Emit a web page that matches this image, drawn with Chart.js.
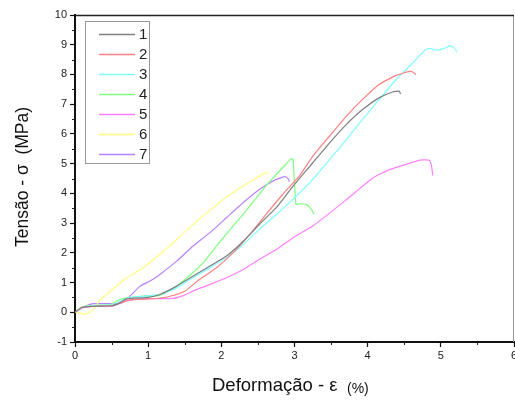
<!DOCTYPE html>
<html>
<head>
<meta charset="utf-8">
<script src="https://cdn.jsdelivr.net/npm/chart.js@4/dist/chart.umd.min.js"></script>
<style>
  html, body { margin: 0; padding: 0; background: #fff; }
  #wrap { width: 515px; height: 400px; }
</style>
</head>
<body>
<div id="wrap"><canvas id="tensile"></canvas></div>
<script>
// curves: strain (%) vs stress (MPa)
const labels = ["1", "2", "3", "4", "5", "6", "7"];
const colors = ["#7f7f7f", "#ff8080", "#80ffff", "#80ff80", "#ff80ff", "#ffff80", "#b880ff"];

const x1 = [0, 0.1, 0.25, 0.5, 0.6, 0.7, 1.0, 1.16, 1.39, 1.61, 1.84, 2.07, 2.30, 2.52, 2.75, 2.98, 3.25, 3.48, 3.71, 3.93, 4.16, 4.34, 4.43, 4.45];
const y1 = [0, 0.17, 0.2, 0.22, 0.3, 0.45, 0.5, 0.6, 0.88, 1.21, 1.55, 1.89, 2.39, 2.96, 3.52, 4.24, 5.03, 5.70, 6.32, 6.82, 7.22, 7.41, 7.44, 7.34];

const x2 = [0, 0.1, 0.25, 0.5, 0.6, 0.75, 1.0, 1.16, 1.30, 1.5, 1.70, 1.93, 2.16, 2.39, 2.61, 2.84, 3.07, 3.25, 3.48, 3.71, 3.93, 4.16, 4.39, 4.59, 4.66];
const y2 = [0, 0.17, 0.2, 0.22, 0.3, 0.42, 0.45, 0.48, 0.54, 0.71, 1.10, 1.49, 2.0, 2.62, 3.29, 3.97, 4.6, 5.25, 5.93, 6.6, 7.16, 7.67, 7.97, 8.11, 8.0];

const x3 = [0, 0.1, 0.25, 0.5, 0.6, 0.75, 1.0, 1.16, 1.39, 1.61, 1.84, 2.07, 2.30, 2.52, 2.75, 2.98, 3.25, 3.48, 3.71, 3.93, 4.16, 4.39, 4.62, 4.80, 4.87, 4.93, 5.02, 5.12, 5.18, 5.22];
const y3 = [0, 0.17, 0.22, 0.25, 0.35, 0.5, 0.55, 0.6, 0.82, 1.16, 1.49, 1.83, 2.28, 2.79, 3.29, 3.80, 4.47, 5.14, 5.81, 6.49, 7.16, 7.83, 8.40, 8.85, 8.87, 8.82, 8.85, 8.96, 8.90, 8.75];

const x4 = [0, 0.07, 0.16, 0.48, 0.61, 0.70, 0.93, 1.16, 1.39, 1.61, 1.75, 1.93, 2.16, 2.39, 2.61, 2.84, 2.96, 2.98, 3.02, 3.07, 3.16, 3.23, 3.27];
const y4 = [0, 0.15, 0.22, 0.26, 0.43, 0.48, 0.54, 0.57, 0.88, 1.33, 1.66, 2.22, 2.9, 3.57, 4.25, 4.87, 5.17, 5.14, 3.63, 3.65, 3.63, 3.46, 3.29];

const x5 = [0, 0.1, 0.25, 0.5, 0.7, 0.93, 1.34, 1.48, 1.61, 1.84, 2.07, 2.30, 2.52, 2.75, 2.98, 3.25, 3.71, 4.07, 4.30, 4.62, 4.71, 4.84, 4.87, 4.89];
const y5 = [0, 0.15, 0.2, 0.2, 0.38, 0.45, 0.47, 0.56, 0.71, 0.93, 1.16, 1.44, 1.78, 2.11, 2.51, 2.90, 3.79, 4.52, 4.80, 5.05, 5.12, 5.12, 4.97, 4.60];

const x6 = [0, 0.08, 0.16, 0.25, 0.34, 0.48, 0.70, 0.93, 1.16, 1.39, 1.61, 1.84, 2.07, 2.30, 2.52, 2.61, 2.65];
const y6 = [0, -0.03, -0.05, 0.1, 0.4, 0.7, 1.15, 1.5, 1.95, 2.45, 2.95, 3.42, 3.88, 4.25, 4.58, 4.70, 4.64];

const x7 = [0, 0.14, 0.25, 0.52, 0.64, 0.75, 0.89, 1.02, 1.16, 1.39, 1.61, 1.84, 2.07, 2.30, 2.52, 2.75, 2.87, 2.92, 2.93];
const y7 = [0, 0.2, 0.29, 0.29, 0.31, 0.54, 0.88, 1.04, 1.27, 1.72, 2.22, 2.67, 3.18, 3.69, 4.13, 4.47, 4.56, 4.47, 4.39];

const xTicks = [0, 1, 2, 3, 4, 5, 6];
const yTicks = [-1, 0, 1, 2, 3, 4, 5, 6, 7, 8, 9, 10];

const xs = [x1, x2, x3, x4, x5, x6, x7];
const ys = [y1, y2, y3, y4, y5, y6, y7];

const FONT = "'Liberation Sans', Arial, sans-serif";

const datasets = labels.map((lab, i) => ({
  label: lab,
  data: xs[i].map((v, k) => ({ x: v, y: ys[i][k] })),
  borderColor: colors[i],
  backgroundColor: colors[i],
  borderWidth: 1.2,
  pointRadius: 0,
  tension: 0.15,
  fill: false
}));

// frame, minor ticks, axis titles and the boxed legend
const decor = {
  id: "decor",
  afterDraw(chart) {
    const c = chart.ctx;
    const a = chart.chartArea;
    const sx = chart.scales.x, sy = chart.scales.y;
    c.save();

    // top + right frame
    c.strokeStyle = "#999";
    c.lineWidth = 1;
    c.beginPath();
    c.moveTo(a.right - 0.5, a.top);
    c.lineTo(a.right - 0.5, a.bottom);
    c.stroke();
    c.strokeStyle = "#222";
    c.lineWidth = 1.5;
    c.beginPath();
    c.moveTo(a.left, a.top + 0.5);
    c.lineTo(a.right, a.top + 0.5);
    c.stroke();

    // minor ticks at half units
    c.strokeStyle = "#222";
    c.lineWidth = 1;
    c.beginPath();
    for (let v = 0.5; v < 6; v += 1) {
      const px = Math.round(sx.getPixelForValue(v)) + 0.5;
      c.moveTo(px, a.bottom);
      c.lineTo(px, a.bottom + 3);
    }
    for (let v = -0.5; v < 10; v += 1) {
      const py = Math.round(sy.getPixelForValue(v)) + 0.5;
      c.moveTo(a.left, py);
      c.lineTo(a.left - 3, py);
    }
    c.stroke();

    // x title, unit set smaller
    c.fillStyle = "#111";
    c.textBaseline = "alphabetic";
    c.textAlign = "left";
    c.font = "18.5px " + FONT;
    c.fillText("Deformação - ε", 212, 391);
    c.font = "14px " + FONT;
    c.fillText("(%)", 347, 393);

    // y title
    c.translate(28, 177);
    c.rotate(-Math.PI / 2);
    c.textAlign = "center";
    c.font = "17.5px " + FONT;
    c.fillText("Tensão - σ  (MPa)", 0, 0);
    c.restore();

    // legend
    c.save();
    c.strokeStyle = "#999";
    c.lineWidth = 1;
    c.strokeRect(85.5, 21.5, 64, 142);
    c.font = "15px " + FONT;
    c.textBaseline = "middle";
    c.textAlign = "left";
    chart.data.datasets.forEach((ds, i) => {
      const yy = 34 + i * 20;
      c.strokeStyle = ds.borderColor;
      c.lineWidth = 1.5;
      c.beginPath();
      c.moveTo(99, yy + 0.5);
      c.lineTo(135, yy + 0.5);
      c.stroke();
      c.fillStyle = "#222";
      c.fillText(ds.label, 139, yy + 1);
    });
    c.restore();
  }
};

new Chart(document.getElementById("tensile"), {
  type: "line",
  data: { datasets: datasets },
  options: {
    responsive: true,
    maintainAspectRatio: false,
    animation: false,
    layout: { padding: { top: 15, right: 1, left: 0, bottom: 0 } },
    plugins: { legend: { display: false }, tooltip: { enabled: false } },
    scales: {
      x: {
        type: "linear",
        min: 0,
        max: 6,
        afterBuildTicks: s => { s.ticks = xTicks.map(v => ({ value: v })); },
        afterFit: s => { s.height = 58; s.paddingRight = 0; s.paddingLeft = 0; },
        border: { display: true, color: "#111", width: 2 },
        grid: { drawOnChartArea: false, tickLength: 5, tickColor: "#111", tickWidth: 1.2 },
        ticks: { color: "#222", font: { family: FONT, size: 11 }, padding: 2, maxRotation: 0 }
      },
      y: {
        type: "linear",
        min: -1,
        max: 10,
        afterBuildTicks: s => { s.ticks = yTicks.map(v => ({ value: v })); },
        afterFit: s => { s.width = 75; s.paddingTop = 0; s.paddingBottom = 0; },
        border: { display: true, color: "#111", width: 2 },
        grid: { drawOnChartArea: false, tickLength: 5, tickColor: "#111", tickWidth: 1.2 },
        ticks: { color: "#222", font: { family: FONT, size: 11 }, padding: 3 }
      }
    }
  },
  plugins: [decor]
});
</script>
</body>
</html>
